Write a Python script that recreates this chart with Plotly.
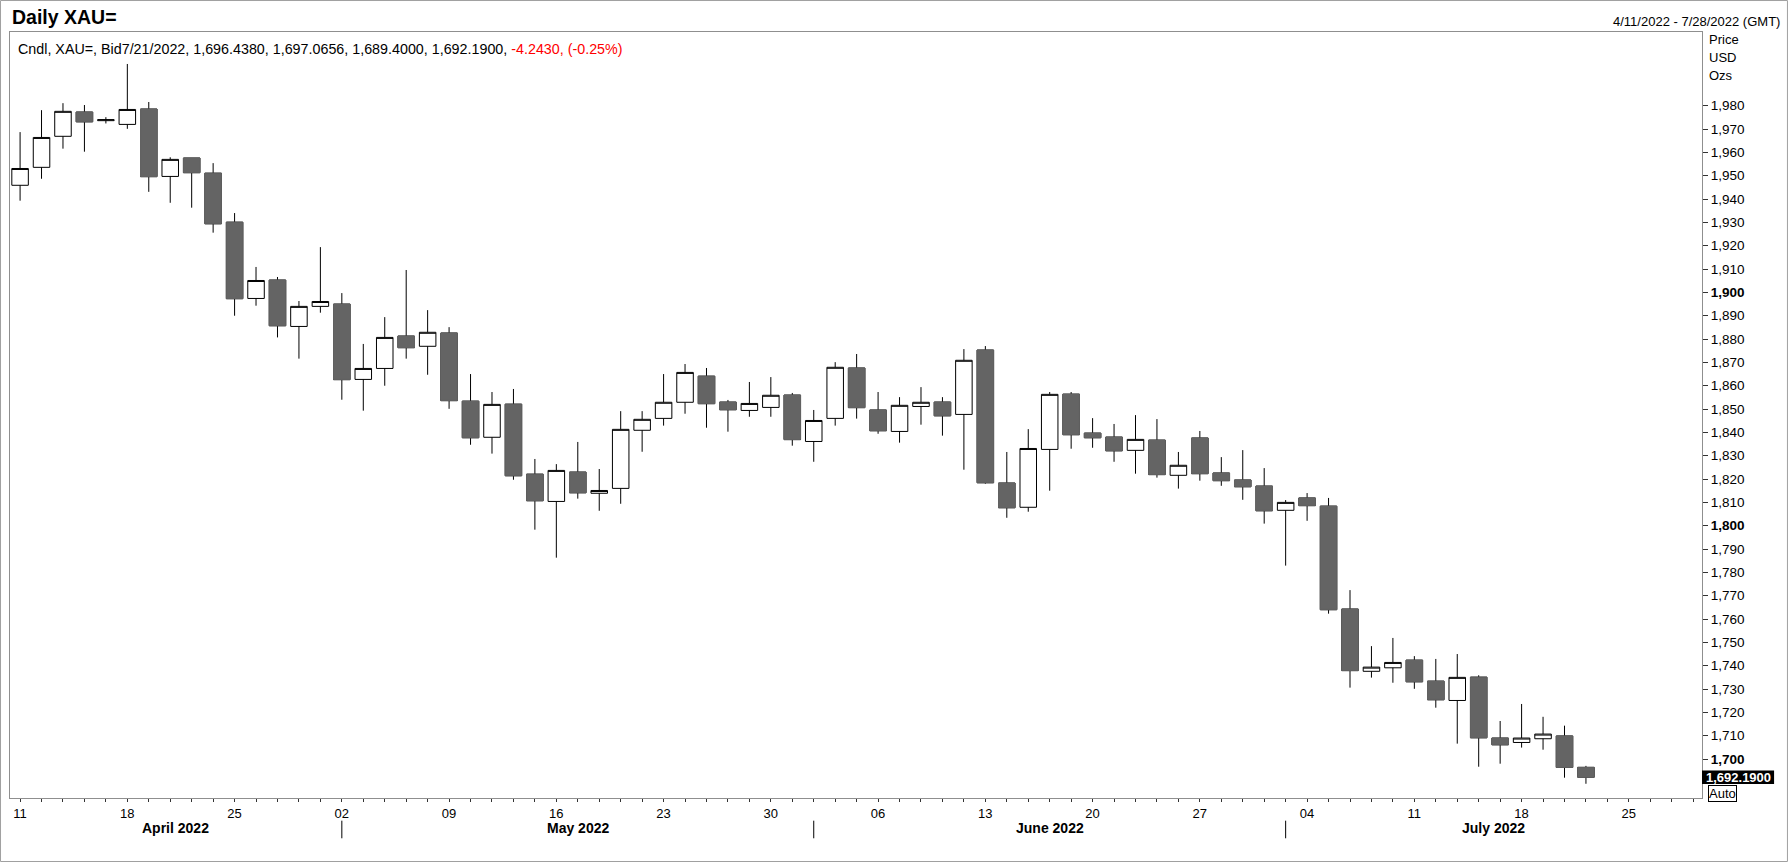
"""Daily XAU= candlestick chart, 11 Apr - 21 Jul 2022."""

import pandas as pd
import plotly.graph_objects as go

# weekday axis runs to 28 Jul, candles stop at 21 Jul
axis_days = pd.bdate_range("2022-04-11", "2022-07-28")

open_ = [
    1945.9, 1953.6, 1966.9, 1977.3, 1973.6, 1972.0, 1978.6, 1949.7, 1957.6, 1951.1,
    1930.1, 1897.4, 1905.3, 1885.4, 1894.0, 1895.0, 1862.7, 1867.4, 1881.3, 1876.9,
    1882.6, 1853.4, 1837.9, 1852.1, 1822.1, 1810.4, 1823.0, 1813.9, 1816.0, 1840.9,
    1846.0, 1852.9, 1864.1, 1853.0, 1849.4, 1850.7, 1856.0, 1836.1, 1846.0, 1867.6,
    1849.6, 1840.4, 1851.1, 1853.0, 1847.7, 1875.3, 1818.3, 1807.9, 1832.7, 1856.4,
    1839.7, 1838.0, 1832.3, 1836.7, 1821.6, 1837.6, 1822.6, 1819.6, 1817.0, 1806.6,
    1811.9, 1808.4, 1764.3, 1737.6, 1739.1, 1742.4, 1733.4, 1725.1, 1735.1, 1709.0,
    1707.1, 1708.7, 1709.9, 1696.438,
]
high = [
    1968.7, 1978.1, 1981.1, 1980.3, 1975.1, 1997.9, 1981.6, 1957.9, 1957.6, 1955.4,
    1934.0, 1910.9, 1906.6, 1896.3, 1919.4, 1899.7, 1877.9, 1889.4, 1909.6, 1892.4,
    1885.1, 1865.0, 1857.3, 1858.6, 1828.6, 1826.4, 1835.9, 1824.3, 1849.1, 1849.1,
    1865.0, 1869.3, 1867.6, 1853.9, 1861.6, 1863.7, 1856.9, 1849.6, 1870.1, 1873.6,
    1857.3, 1855.1, 1859.4, 1855.1, 1875.7, 1877.0, 1831.6, 1841.4, 1857.3, 1857.3,
    1846.1, 1843.6, 1847.4, 1845.7, 1831.6, 1840.6, 1829.4, 1832.4, 1824.7, 1811.0,
    1814.0, 1811.9, 1772.4, 1748.4, 1751.9, 1744.1, 1742.9, 1745.0, 1735.9, 1716.3,
    1723.6, 1718.1, 1714.3, 1697.0656,
]
low = [
    1939.3, 1948.7, 1961.6, 1960.3, 1972.4, 1970.1, 1943.1, 1938.4, 1936.3, 1925.6,
    1890.0, 1894.3, 1880.7, 1871.6, 1891.3, 1854.0, 1849.3, 1860.0, 1871.6, 1864.7,
    1850.1, 1834.7, 1830.9, 1819.7, 1798.3, 1786.3, 1811.6, 1806.4, 1809.4, 1831.7,
    1842.9, 1848.0, 1842.0, 1840.3, 1846.7, 1846.7, 1834.3, 1827.4, 1842.9, 1845.9,
    1839.4, 1835.6, 1843.3, 1838.6, 1824.0, 1818.0, 1803.4, 1806.0, 1815.0, 1833.0,
    1833.4, 1827.4, 1822.3, 1820.6, 1815.9, 1819.3, 1817.1, 1811.1, 1800.9, 1782.9,
    1802.1, 1762.3, 1730.6, 1734.9, 1732.7, 1730.1, 1722.0, 1706.6, 1696.7, 1698.0,
    1704.9, 1704.0, 1692.0, 1689.4,
]
close = [
    1953.1, 1966.4, 1977.6, 1973.1, 1974.0, 1978.4, 1949.6, 1957.0, 1951.3, 1929.4,
    1897.3, 1905.1, 1885.7, 1894.0, 1896.1, 1862.6, 1867.4, 1880.7, 1876.3, 1882.9,
    1853.6, 1837.7, 1852.0, 1821.4, 1810.7, 1823.7, 1814.1, 1815.1, 1841.3, 1845.6,
    1852.9, 1865.7, 1852.3, 1849.7, 1852.4, 1855.9, 1836.9, 1845.1, 1867.9, 1850.6,
    1840.7, 1851.6, 1852.9, 1847.1, 1870.9, 1818.4, 1807.7, 1833.1, 1856.3, 1839.0,
    1837.7, 1832.1, 1837.0, 1821.9, 1825.9, 1822.3, 1819.3, 1816.7, 1806.4, 1810.0,
    1808.6, 1764.0, 1737.9, 1739.4, 1741.4, 1733.1, 1725.4, 1735.0, 1709.1, 1706.1,
    1709.0, 1710.7, 1696.433, 1692.19,
]

price_ticks = list(range(1700, 1990, 10))

DOWN_GREY = "#646464"
FRAME = "#8f8f8f"
FONT = "Liberation Sans, Arial, sans-serif"
NARROW = "Liberation Sans Narrow, Liberation Sans, Arial, sans-serif"

X_RANGE = [-0.47, 78.41]
Y_RANGE = [1683.3, 2011.6]

x = list(range(len(close)))

fig = go.Figure()
fig.add_trace(go.Candlestick(
    x=x, open=open_, high=high, low=low, close=close,
    increasing=dict(line=dict(color="black", width=1), fillcolor="white"),
    decreasing=dict(line=dict(color="black", width=1), fillcolor=DOWN_GREY),
    whiskerwidth=0, showlegend=False,
))
# falling days: grey body without the black outline, wicks stay black
down = [i for i in x if close[i] < open_[i]]
fig.add_trace(go.Candlestick(
    x=down,
    open=[open_[i] for i in down], close=[close[i] for i in down],
    high=[open_[i] for i in down], low=[close[i] for i in down],
    increasing=dict(line=dict(color=DOWN_GREY, width=1), fillcolor=DOWN_GREY),
    decreasing=dict(line=dict(color=DOWN_GREY, width=1), fillcolor=DOWN_GREY),
    whiskerwidth=0, showlegend=False, hoverinfo="skip",
))

# x axis: a tick per weekday, label on Mondays
day_labels = [f"{d:%d}" if d.weekday() == 0 else "" for d in axis_days]
y_labels = [f"<b>{v:,}</b>" if v % 100 == 0 else f"{v:,}" for v in price_ticks]

fig.update_layout(
    width=1788, height=862,
    margin=dict(l=10, r=86, t=32, b=64),
    paper_bgcolor="white", plot_bgcolor="white",
    font=dict(family=FONT, size=13, color="black"),
    boxgap=0.23, boxgroupgap=0,
    showlegend=False,
    xaxis=dict(
        range=X_RANGE, tickmode="array",
        tickvals=list(range(len(axis_days))), ticktext=day_labels,
        tickangle=0, ticks="outside", ticklen=3, tickcolor="#333",
        tickfont=dict(family=NARROW, size=13),
        showline=True, mirror=True, linecolor=FRAME, linewidth=1,
        showgrid=False, zeroline=False,
        rangeslider=dict(visible=False),
    ),
    yaxis=dict(
        side="right", range=Y_RANGE, tickmode="array",
        tickvals=price_ticks, ticktext=y_labels,
        ticks="outside", ticklen=5, tickcolor="#333",
        tickfont=dict(family=FONT, size=13.5),
        showline=True, mirror=True, linecolor=FRAME, linewidth=1,
        showgrid=False, zeroline=False,
    ),
)

# month names under the day numbers, with separators at month starts
starts = [i for i in range(1, len(axis_days)) if axis_days[i].month != axis_days[i - 1].month]
edges = [X_RANGE[0]] + starts + [X_RANGE[1]]
month_first = [0] + starts
for k, first in enumerate(month_first):
    fig.add_annotation(
        x=(edges[k] + edges[k + 1]) / 2, y=-0.0396, xref="x", yref="paper",
        text=f"<b>{axis_days[first]:%B %Y}</b>", showarrow=False,
        font=dict(family=NARROW, size=14), xanchor="center", yanchor="middle",
    )
for s in starts:
    fig.add_shape(type="line", xref="x", yref="paper", x0=s, x1=s,
                  y0=-0.0296, y1=-0.0526, line=dict(color="black", width=1))

# header texts
last_day = axis_days[len(close) - 1]
chg = close[-1] - close[-2]
pct = chg / close[-2] * 100
header = (
    f"Cndl, XAU=, Bid{last_day.month}/{last_day.day}/{last_day.year}, "
    f"{open_[-1]:,.4f}, {high[-1]:,.4f}, {low[-1]:,.4f}, {close[-1]:,.4f}, "
    f"<span style='color:#ff0000'>{chg:,.4f}, ({pct:.2f}%)</span>"
)
fig.add_annotation(x=0.0035, y=0.978, xref="paper", yref="paper", text=header,
                   showarrow=False, xanchor="left", yanchor="middle",
                   font=dict(family=FONT, size=14.3))
fig.add_annotation(x=0.0, y=1.0196, xref="paper", yref="paper", text="<b>Daily XAU=</b>",
                   showarrow=False, xanchor="left", yanchor="middle",
                   font=dict(family=FONT, size=19.5))
fig.add_annotation(
    x=1.0473, y=1.0134, xref="paper", yref="paper",
    text=f"{axis_days[0].month}/{axis_days[0].day}/{axis_days[0].year} - "
         f"{axis_days[-1].month}/{axis_days[-1].day}/{axis_days[-1].year} (GMT)",
    showarrow=False, xanchor="right", yanchor="middle", font=dict(family=FONT, size=13),
)
for txt, yy in [("Price", 0.9896), ("USD", 0.9661), ("Ozs", 0.9426)]:
    fig.add_annotation(x=1.003, y=yy, xref="paper", yref="paper", text=txt,
                       showarrow=False, xanchor="left", yanchor="middle",
                       font=dict(family=FONT, size=13))

# last price tag and the "Auto" box
fig.add_shape(type="rect", xref="paper", yref="y", x0=1.0, x1=1.0426,
              y0=close[-1] - 2.85, y1=close[-1] + 2.85,
              fillcolor="black", line=dict(width=0), layer="above")
fig.add_annotation(x=1.0213, y=close[-1], xref="paper", yref="y",
                   text=f"<b>{close[-1]:,.4f}</b>", showarrow=False,
                   xanchor="center", yanchor="middle",
                   font=dict(family=FONT, size=13, color="white"))
fig.add_annotation(x=1.0035, y=0.017, xref="paper", yref="paper", text="Auto",
                   showarrow=False, xanchor="left", yanchor="top",
                   bordercolor="black", borderwidth=1, borderpad=0, bgcolor="white",
                   font=dict(family=FONT, size=13))

# outer window frame
fig.add_shape(type="rect", xref="paper", yref="paper",
              x0=-0.0056, x1=1.0505, y0=-0.0829, y1=1.0411,
              line=dict(color="#a0a0a0", width=1))

fig.write_html("out.html", config=dict(displayModeBar=False),
               post_script="document.body.style.margin='0';")
